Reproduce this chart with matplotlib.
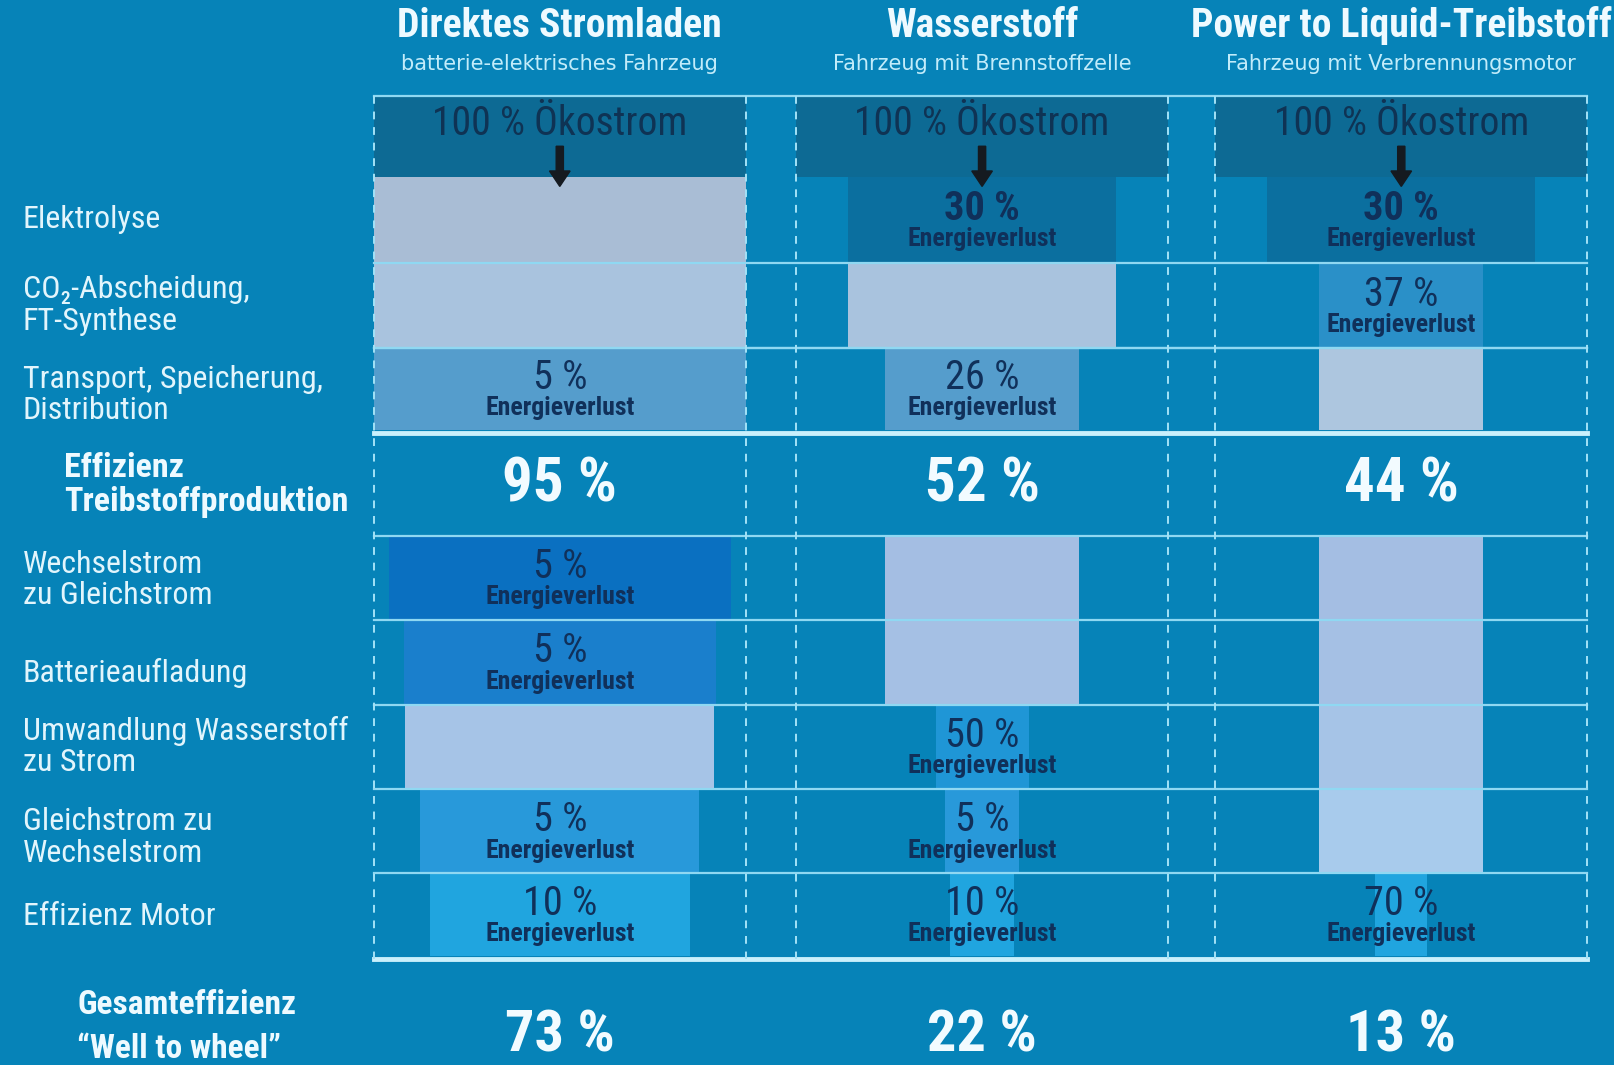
import matplotlib
matplotlib.use('Agg')
import matplotlib.pyplot as plt
from matplotlib import font_manager as fm

# column headers
columns = ['Direktes Stromladen', 'Wasserstoff', 'Power to Liquid-Treibstoff']
subtitles = ['batterie-elektrisches Fahrzeug', 'Fahrzeug mit Brennstoffzelle',
             'Fahrzeug mit Verbrennungsmotor']
source_label = '100 % Ökostrom'

# process steps (rows)
steps = ['Elektrolyse', 'CO₂-Abscheidung,\nFT-Synthese', 'Transport, Speicherung,\nDistribution',
         'Wechselstrom\nzu Gleichstrom', 'Batterieaufladung', 'Umwandlung Wasserstoff\nzu Strom',
         'Gleichstrom zu\nWechselstrom', 'Effizienz Motor']

# energy loss per step in %, None = no loss in this step
loss_stromladen = [None, None, 5, 5, 5, None, 5, 10]
loss_wasserstoff = [30, None, 26, None, None, 50, 5, 10]
loss_ptl = [30, 37, None, None, None, None, None, 70]

# bar widths in % of the column width
width_stromladen = [100, 100, 100, 92, 84, 83, 75, 70]
width_wasserstoff = [72, 72, 52, 52, 52, 25, 20, 17]
width_ptl = [72, 44, 44, 44, 44, 44, 44, 14]

eff_production = [95, 52, 44]
eff_total = [73, 22, 13]

losses = [loss_stromladen, loss_wasserstoff, loss_ptl]
widths = [width_stromladen, width_wasserstoff, width_ptl]

# colours
BG = '#0683b8'
DARK_BOX = '#0d6a94'
LINE = '#8fd8f2'
TEXT_DARK = '#10305a'
loss_colors = ['#0b6f9f', '#2a90c8', '#559dcc', '#0a70c1', '#1a7fcc', '#1f96d6', '#2899da', '#20a5df']
light_colors = ['#a9bdd5', '#a9c3de', '#adc6df', '#a4bee3', '#a5c0e4', '#a6c4e7', '#a8cbec', '#aacfee']

# fonts
names = {f.name for f in fm.fontManager.ttflist}
narrow = next((n for n in ['Roboto Condensed', 'Liberation Sans Narrow', 'Open Sans Condensed']
               if n in names), 'Liberation Sans')
shrink = 1.0 if narrow != 'Liberation Sans' else 0.85
NARROW = [narrow, 'DejaVu Sans']
REGULAR = ['DejaVu Sans']

# layout (canvas units)
col_left = [363, 773, 1180]
col_w = 361
row_edges = [(172, 255), (255, 338), (338, 417),
             (520, 602), (602, 684), (684, 766), (766, 848), (848, 928)]
label_dy = [0, 0, 6, 2, 10, 0, 6, 2]
top_line = 93
thick_lines = [420, 931]

fig = plt.figure(figsize=(16.15, 10.65), dpi=100)
fig.patch.set_facecolor(BG)
ax = fig.add_axes([0, 0, 1, 1])
ax.set_facecolor(BG)
ax.set_xlim(0, 1568)
ax.set_ylim(1034, 0)
ax.axis('off')

for c in range(3):
    cx = col_left[c] + col_w / 2

    # header
    ax.text(cx, 25, columns[c], ha='center', va='center', color='#eefaff',
            fontsize=28.5 * shrink, fontweight='bold', family=NARROW)
    ax.text(cx, 62, subtitles[c], ha='center', va='center', color='#c2ecfa',
            fontsize=15, family=REGULAR)

    # source box
    ax.bar(cx, 172 - top_line, width=col_w, bottom=top_line, color=DARK_BOX, zorder=1)
    ax.text(cx, 120, source_label, ha='center', va='center', color='#0f3354',
            fontsize=28.5 * shrink, family=NARROW, zorder=5)
    ax.arrow(cx, 142, 0, 24, width=7, head_width=20, head_length=15,
             color='#151a20', length_includes_head=False, zorder=6)

    # step bars
    for r, (y0, y1) in enumerate(row_edges):
        w = widths[c][r] / 100 * col_w
        loss = losses[c][r]
        color = loss_colors[r] if loss is not None else light_colors[r]
        ax.bar(cx, y1 - y0, width=w, bottom=y0, color=color, zorder=2)
        if loss is not None:
            yc = (y0 + y1) / 2
            bold = 'bold' if r == 0 else 'normal'
            ax.text(cx, yc - 11, f'{loss} %', ha='center', va='center', color=TEXT_DARK,
                    fontsize=29 * shrink, fontweight=bold, family=NARROW, zorder=5)
            ax.text(cx, yc + 19, 'Energieverlust', ha='center', va='center', color=TEXT_DARK,
                    fontsize=18.5 * shrink, fontweight='bold', family=NARROW, zorder=5)

    # efficiencies
    ax.text(cx, 470, f'{eff_production[c]} %', ha='center', va='center', color='#f2fbff',
            fontsize=44 * shrink, fontweight='bold', family=NARROW)
    ax.text(cx, 1006, f'{eff_total[c]} %', ha='center', va='center', color='#f2fbff',
            fontsize=42 * shrink, fontweight='bold', family=NARROW)

# grid lines
x_start, x_end = col_left[0], col_left[-1] + col_w
for y in [top_line] + [e[0] for e in row_edges[1:3]] + [e[0] for e in row_edges[3:]] + [row_edges[2][0]]:
    ax.plot([x_start, x_end], [y, y], color=LINE, lw=1.6, zorder=4)
for y in thick_lines:
    ax.plot([x_start, x_end], [y, y], color='#c9f0fc', lw=3.5, zorder=4)
for c in range(3):
    for x in (col_left[c], col_left[c] + col_w):
        ax.plot([x, x], [top_line, thick_lines[1]], color='#a3e2f7', lw=1.4,
                ls=(0, (4, 4)), zorder=4)

# row labels
for r, (y0, y1) in enumerate(row_edges):
    ax.text(22, (y0 + y1) / 2 + label_dy[r], steps[r], ha='left', va='center', color='#e2f5fc',
            fontsize=23 * shrink, family=NARROW, linespacing=1.1)
ax.text(62, 471, 'Effizienz\nTreibstoffproduktion', ha='left', va='center', color='#eefaff',
        fontsize=24.5 * shrink, fontweight='bold', family=NARROW, linespacing=1.05)
ax.text(75, 997, 'Gesamteffizienz\n“Well to wheel”', ha='left', va='center', color='#eefaff',
        fontsize=24 * shrink, fontweight='bold', family=NARROW, linespacing=1.45)

fig.savefig('out.png', dpi=100, facecolor=BG)
